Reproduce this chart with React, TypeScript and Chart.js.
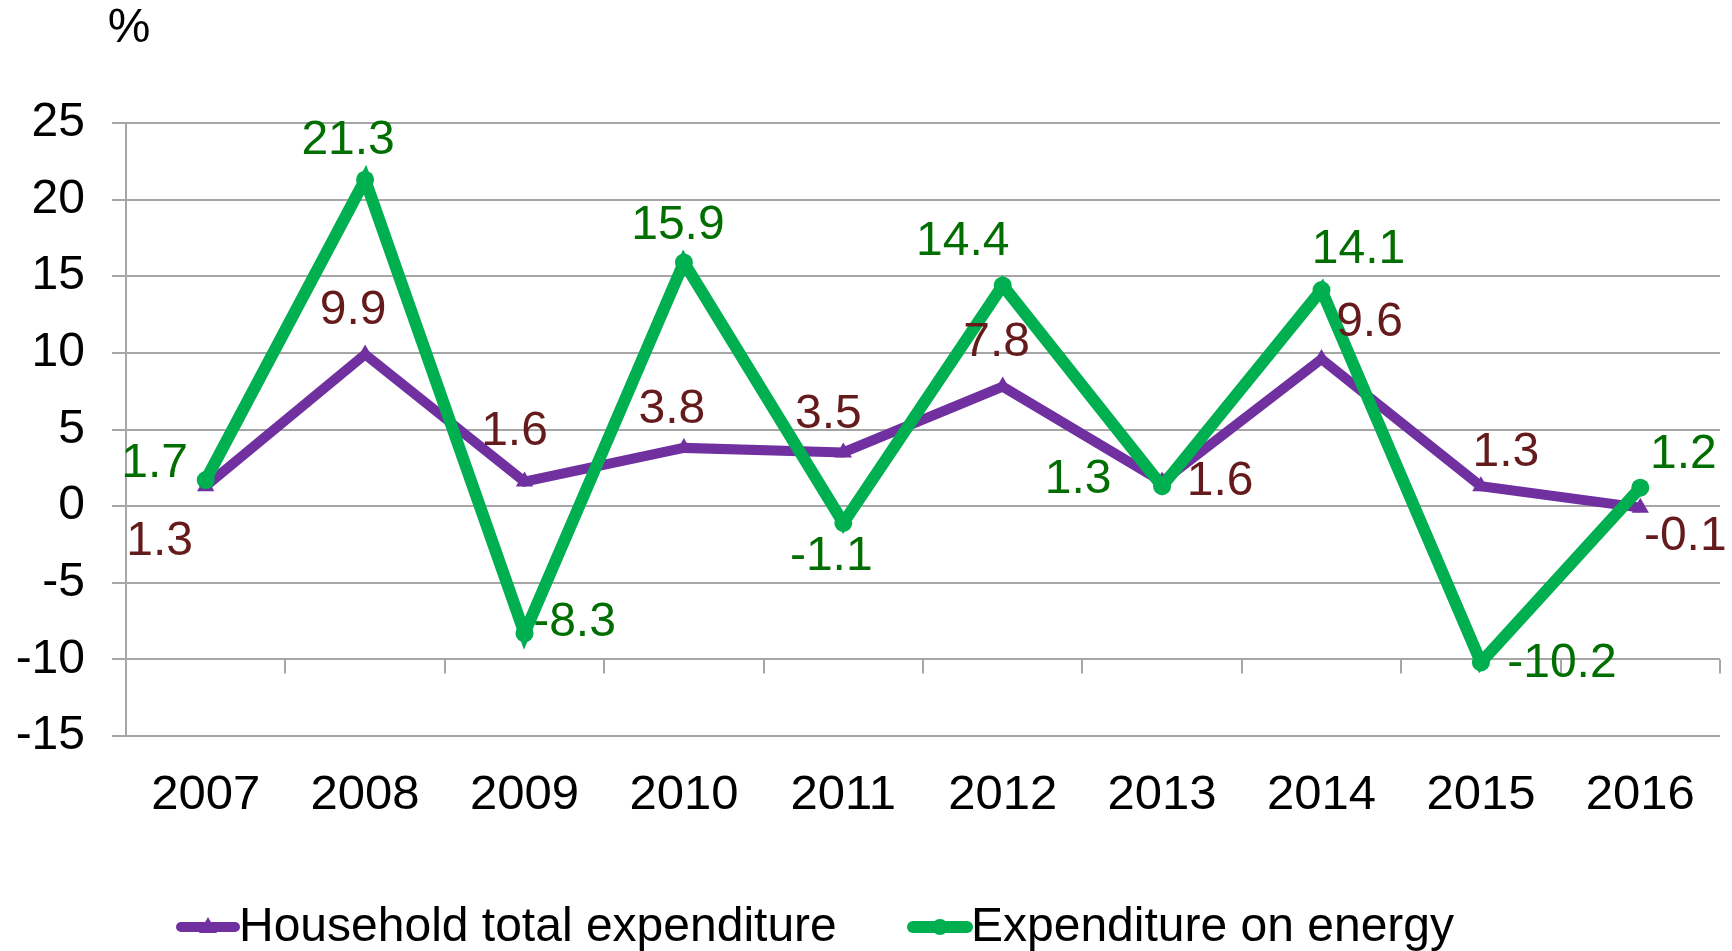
import React, { useEffect, useRef } from "react";
import { Chart, registerables } from "chart.js";

Chart.register(...registerables);

const years = ["2007", "2008", "2009", "2010", "2011", "2012", "2013", "2014", "2015", "2016"];
const householdTotal = [1.3, 9.9, 1.6, 3.8, 3.5, 7.8, 1.6, 9.6, 1.3, -0.1];
const energyExpenditure = [1.7, 21.3, -8.3, 15.9, -1.1, 14.4, 1.3, 14.1, -10.2, 1.2];
const householdLabels = ["1.3", "9.9", "1.6", "3.8", "3.5", "7.8", "1.6", "9.6", "1.3", "-0.1"];
const energyLabels = ["1.7", "21.3", "-8.3", "15.9", "-1.1", "14.4", "1.3", "14.1", "-10.2", "1.2"];
const seriesNames = ["Household total expenditure", "Expenditure on energy"];
const yMin = -15;
const yMax = 25;
const yStep = 5;
const xAxisCross = -10;
const unitLabel = "%";

// label placement (pixel offset from point), layout only
const householdLabelOffsets = [[-46, 56], [-12, -44], [-10, -50], [-12, -38], [-15, -38], [-6, -44], [58, 0], [48, -36], [25, -33], [45, 29]];
const energyLabelOffsets = [[-51, -16], [-17, -39], [50, -11], [-6, -37], [-12, 34], [-40, -44], [-84, -6], [37, -40], [81, 1], [43, -33]];

const FONT = "'Liberation Sans', Arial, sans-serif";
const PURPLE = "#7030A0";
const GREEN = "#00B050";
const MAROON = "#651B1B";
const DKGREEN = "#006E00";
const GRID = "#A6A6A6";

export default function App() {
  const ref = useRef<HTMLCanvasElement | null>(null);

  useEffect(() => {
    document.body.style.margin = "0";
    const canvas = ref.current;
    if (!canvas) return;

    const decorPlugin = {
      id: "decor",
      beforeDatasetsDraw(chart: any) {
        const { ctx, chartArea } = chart;
        const ys = chart.scales.y;
        const y0 = ys.getPixelForValue(xAxisCross);
        const n = years.length;
        const w = (chartArea.right - chartArea.left) / n;
        ctx.save();
        ctx.strokeStyle = GRID;
        ctx.lineWidth = 2;
        for (let i = 0; i <= n; i++) {
          const x = Math.round(chartArea.left + i * w);
          ctx.beginPath();
          ctx.moveTo(x, y0);
          ctx.lineTo(x, y0 + 14);
          ctx.stroke();
        }
        ctx.restore();
      },
      afterDatasetsDraw(chart: any) {
        const { ctx } = chart;
        ctx.save();
        ctx.font = `48px ${FONT}`;
        ctx.textAlign = "center";
        ctx.textBaseline = "middle";
        const sets = [
          { idx: 0, labels: householdLabels, offs: householdLabelOffsets, color: MAROON },
          { idx: 1, labels: energyLabels, offs: energyLabelOffsets, color: DKGREEN },
        ];
        for (const s of sets) {
          const meta = chart.getDatasetMeta(s.idx);
          ctx.fillStyle = s.color;
          meta.data.forEach((pt: any, i: number) => {
            ctx.fillText(s.labels[i], pt.x + s.offs[i][0], pt.y + s.offs[i][1]);
          });
        }
        // unit label
        ctx.fillStyle = "#000";
        ctx.fillText(unitLabel, 129, 29);

        // legend
        const ly = 927;
        const items = [
          { x0: 176, color: PURPLE, style: "triangle", lw: 10, name: seriesNames[0] },
          { x0: 908, color: GREEN, style: "circle", lw: 12, name: seriesNames[1] },
        ];
        for (const it of items) {
          ctx.strokeStyle = it.color;
          ctx.fillStyle = it.color;
          ctx.lineWidth = it.lw;
          ctx.lineCap = "round";
          ctx.beginPath();
          ctx.moveTo(it.x0 + 5, ly);
          ctx.lineTo(it.x0 + 59, ly);
          ctx.stroke();
          const cx = it.x0 + 32;
          ctx.beginPath();
          if (it.style === "circle") {
            ctx.arc(cx, ly, 8, 0, Math.PI * 2);
          } else {
            ctx.moveTo(cx, ly - 10);
            ctx.lineTo(cx + 9, ly + 6);
            ctx.lineTo(cx - 9, ly + 6);
            ctx.closePath();
          }
          ctx.fill();
          ctx.fillStyle = "#000";
          ctx.textAlign = "left";
          ctx.fillText(it.name, it.x0 + 63, ly + 1);
        }
        ctx.restore();
      },
    };

    const chart = new Chart(canvas, {
      type: "line",
      data: {
        labels: years,
        datasets: [
          {
            label: seriesNames[0],
            data: householdTotal,
            borderColor: PURPLE,
            backgroundColor: PURPLE,
            borderWidth: 10,
            pointStyle: "triangle",
            pointRadius: 10,
            pointBorderWidth: 0,
            order: 1,
            tension: 0,
          },
          {
            label: seriesNames[1],
            data: energyExpenditure,
            borderColor: GREEN,
            backgroundColor: GREEN,
            borderWidth: 12,
            pointStyle: "circle",
            pointRadius: 9,
            pointBorderWidth: 0,
            order: 0,
            tension: 0,
          },
        ],
      },
      options: {
        responsive: false,
        animation: false,
        devicePixelRatio: 1,
        layout: { padding: { top: 123, right: 12, left: 0, bottom: 0 } },
        plugins: {
          legend: { display: false },
          tooltip: { enabled: false },
        },
        scales: {
          x: {
            type: "category",
            offset: true,
            grid: { display: false, drawTicks: false },
            border: { display: false },
            ticks: {
              color: "#000",
              font: { family: FONT, size: 49 },
              padding: 30,
              maxRotation: 0,
              autoSkip: false,
            },
            afterFit(scale: any) {
              scale.height = 215;
            },
          },
          y: {
            min: yMin,
            max: yMax,
            ticks: {
              stepSize: yStep,
              color: "#000",
              font: { family: FONT, size: 48 },
              padding: 27,
            },
            grid: { color: GRID, lineWidth: 2, tickLength: 14, drawTicks: true },
            border: { display: true, color: GRID, width: 2 },
            afterFit(scale: any) {
              scale.width = 126;
            },
          },
        },
      },
      plugins: [decorPlugin],
    } as any);

    return () => chart.destroy();
  }, []);

  return (
    <div style={{ width: 1732, height: 951, background: "#fff" }}>
      <canvas ref={ref} width={1732} height={951} style={{ display: "block" }} />
    </div>
  );
}
